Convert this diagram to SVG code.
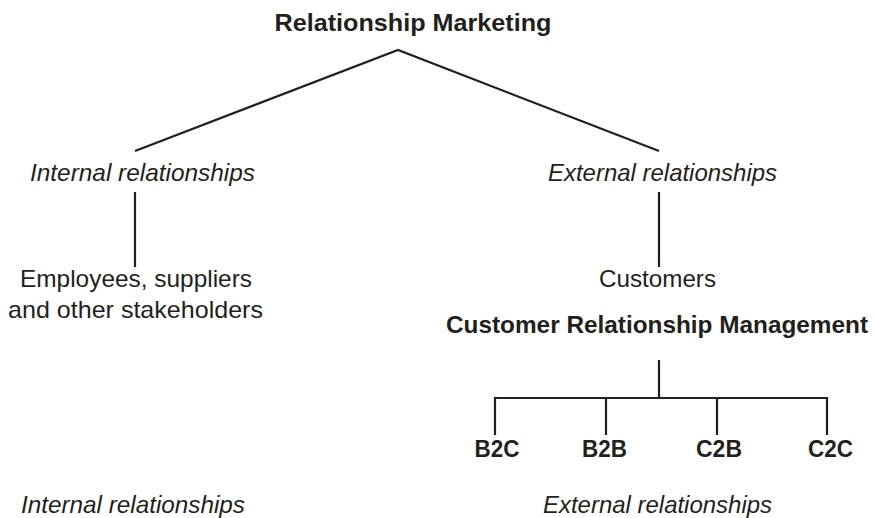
<svg xmlns="http://www.w3.org/2000/svg" width="875" height="518" viewBox="0 0 875 518">
  <style>
    text { font-family: "Liberation Sans", Arial, sans-serif; font-size: 24px; fill: #231f20; text-anchor: middle; }
    .b { font-weight: bold; }
    .i { font-style: italic; }
    .code { font-size: 23px; }
    .edge { fill: none; stroke: #231f20; stroke-width: 2.2; stroke-linecap: butt; stroke-linejoin: miter; }
  </style>
  <rect width="875" height="518" fill="#ffffff"/>

  <!-- connectors -->
  <g id="connectors">
    <polyline class="edge" points="135,151 398,50 659,151"/>
    <line class="edge" x1="135" y1="192" x2="135" y2="267"/>
    <line class="edge" x1="659" y1="192" x2="659" y2="267"/>
    <line class="edge" x1="659" y1="360" x2="659" y2="398"/>
    <polyline class="edge" points="495,435 495,398 827,398 827,435"/>
    <line class="edge" x1="606" y1="398" x2="606" y2="435"/>
    <line class="edge" x1="717" y1="398" x2="717" y2="435"/>
  </g>

  <g id="relationship-marketing">
    <text class="b" x="413" y="31" textLength="277" lengthAdjust="spacingAndGlyphs">Relationship Marketing</text>
  </g>
  <g id="internal-relationships">
    <text class="i" x="142.5" y="181" textLength="225" lengthAdjust="spacingAndGlyphs">Internal relationships</text>
  </g>
  <g id="external-relationships">
    <text class="i" x="662.5" y="181" textLength="229" lengthAdjust="spacingAndGlyphs">External relationships</text>
  </g>
  <g id="stakeholders">
    <text x="136" y="287" textLength="232" lengthAdjust="spacingAndGlyphs">Employees, suppliers</text>
    <text x="135.5" y="318" textLength="255" lengthAdjust="spacingAndGlyphs">and other stakeholders</text>
  </g>
  <g id="customers">
    <text x="657.5" y="287" textLength="117" lengthAdjust="spacingAndGlyphs">Customers</text>
  </g>
  <g id="crm">
    <text class="b" x="657" y="333" textLength="422" lengthAdjust="spacingAndGlyphs">Customer Relationship Management</text>
  </g>
  <g id="b2c"><text class="b code" x="497" y="457" textLength="45" lengthAdjust="spacingAndGlyphs">B2C</text></g>
  <g id="b2b"><text class="b code" x="604.5" y="457" textLength="45" lengthAdjust="spacingAndGlyphs">B2B</text></g>
  <g id="c2b"><text class="b code" x="719" y="457" textLength="46" lengthAdjust="spacingAndGlyphs">C2B</text></g>
  <g id="c2c"><text class="b code" x="830.5" y="457" textLength="45" lengthAdjust="spacingAndGlyphs">C2C</text></g>

  <g id="caption-internal">
    <text class="i" x="133" y="513" textLength="224" lengthAdjust="spacingAndGlyphs">Internal relationships</text>
  </g>
  <g id="caption-external">
    <text class="i" x="657.5" y="513" textLength="229" lengthAdjust="spacingAndGlyphs">External relationships</text>
  </g>
</svg>
